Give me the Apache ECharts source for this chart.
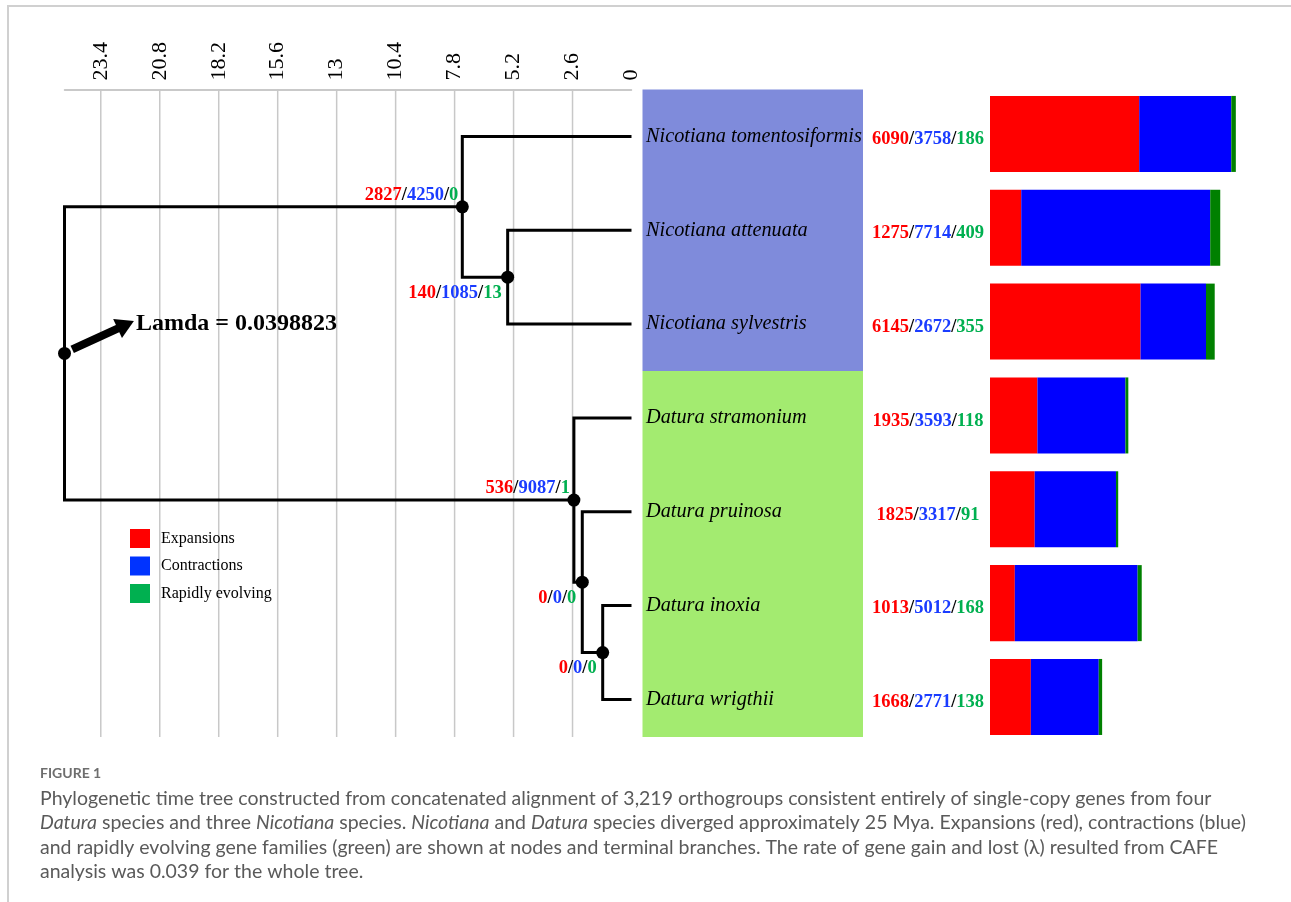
<!DOCTYPE html>
<html><head><meta charset="utf-8">
<script src="https://cdn.jsdelivr.net/npm/echarts@6/dist/echarts.min.js"></script>
<style>
html,body{margin:0;padding:0;background:#fff;overflow:hidden;}
#frame{position:absolute;left:7px;top:5px;width:1290px;height:900px;border-left:2px solid #d0d0d0;border-top:2px solid #d0d0d0;}
#chart{position:absolute;left:0;top:0;width:1291px;height:902px;}
</style></head><body><div id="frame"></div><div id="chart"></div>
<script>
// ---- data ----
const species = ['Nicotiana tomentosiformis','Nicotiana attenuata','Nicotiana sylvestris','Datura stramonium','Datura pruinosa','Datura inoxia','Datura wrigthii'];
const genus = ['Nicotiana','Nicotiana','Nicotiana','Datura','Datura','Datura','Datura'];
const expansions = [6090,1275,6145,1935,1825,1013,1668];
const contractions = [3758,7714,2672,3593,3317,5012,2771];
const rapid = [186,409,355,118,91,168,138];
const nodeIds = ['root','N1','N2','D1','D2','D3'];
const nodeAges = [25,7.46,5.46,2.54,2.17,1.27];
const nodeKids = [['N1','D1'],['T0','N2'],['T1','T2'],['T3','D2'],['T4','D3'],['T5','T6']];
const nodeExp = [null,2827,140,536,0,0];
const nodeCon = [null,4250,1085,9087,0,0];
const nodeRapid = [null,0,13,1,0,0];
const nodeLabelSide = [null,'above','below','above','below','below'];
const timeTicks = [0,2.6,5.2,7.8,10.4,13,15.6,18.2,20.8,23.4];
const lambda = 0.0398823;
const legendNames = ['Expansions','Contractions','Rapidly evolving'];
const captionTitle = 'FIGURE 1';
const captionLines = [
 'Phylogenetic time tree constructed from concatenated alignment of 3,219 orthogroups consistent entirely of single-copy genes from four',
 '{i|Datura} species and three {i|Nicotiana} species. {i|Nicotiana} and {i|Datura} species diverged approximately 25 Mya. Expansions (red), contractions (blue)',
 'and rapidly evolving gene families (green) are shown at nodes and terminal branches. The rate of gene gain and lost (λ) resulted from CAFE',
 'analysis was 0.039 for the whole tree.'
];

// ---- styles ----
const RED='#ff0000', BLUE='#1a3cff', GREEN='#00b050';
const barColors=['#ff0000','#0000ff','#008000'];
const legendColors=['#ff0000','#0033ff','#00b050'];
const genusColors={Nicotiana:'#7f8bdb',Datura:'#a3eb70'};
const SERIF='"Liberation Serif","Times New Roman",serif';
const SANS='Lato,"Open Sans","Noto Sans",sans-serif';
const Y_MIN=-0.5, Y_MAX=6.4;

// ---- tree layout ----
const pos={};
species.forEach((s,i)=>{pos['T'+i]=[0,i];});
function place(id){
  if(pos[id]) return pos[id];
  const k=nodeIds.indexOf(id);
  const kids=nodeKids[k].map(place);
  pos[id]=[nodeAges[k],(kids[0][1]+kids[1][1])/2];
  return pos[id];
}
place('root');
const brackets=nodeIds.map((id,k)=>{
  const p=pos[id]; const a=pos[nodeKids[k][0]], b=pos[nodeKids[k][1]];
  return [a[0],a[1],p[0],a[1],p[0],b[1],b[0],b[1]];
});
const nodeData=nodeIds.map(id=>pos[id]);
const nodeLabelData=nodeIds.map((id,k)=>[pos[id][0],pos[id][1],k]).filter(d=>nodeExp[d[2]]!==null);

function triple(e,c,r){return '{r|'+e+'}{k|/}{b|'+c+'}{k|/}{g|'+r+'}';}
const numRich={
  r:{fill:RED,font:'bold 18.5px '+SERIF},
  b:{fill:BLUE,font:'bold 18.5px '+SERIF},
  g:{fill:GREEN,font:'bold 18.5px '+SERIF},
  k:{fill:'#000',font:'bold 18.5px '+SERIF}
};

const stacks=[expansions,contractions,rapid];
const barSeries=stacks.map((arr,c)=>{
  const data=arr.map((v,i)=>{
    let start=0; for(let j=0;j<c;j++) start+=stacks[j][i];
    return [start,start+v,i];
  });
  return {
    type:'custom', name:legendNames[c], xAxisIndex:1, yAxisIndex:1, z:3,
    itemStyle:{color:barColors[c]},
    data:data, clip:false,
    encode:{x:[0,1],y:2},
    renderItem:function(params,api){
      const p1=api.coord([api.value(0),api.value(2)]);
      const p2=api.coord([api.value(1),api.value(2)]);
      const h=api.size([0,0.81])[1];
      return {type:'rect',shape:{x:p1[0],y:p1[1]-h/2-2.5,width:p2[0]-p1[0],height:h},style:{fill:barColors[c]}};
    }
  };
});

const genusGroups=[];
genus.forEach((g,i)=>{
  const last=genusGroups[genusGroups.length-1];
  if(last && last.g===g) last.end=i; else genusGroups.push({g:g,start:i,end:i});
});

const chart=echarts.init(document.getElementById('chart'),null,{renderer:'canvas'});
chart.setOption({
  animation:false,
  backgroundColor:'transparent',
  title:[
    {text:'Lamda = '+lambda,left:136,top:310,padding:0,textStyle:{fontFamily:SERIF,fontWeight:'bold',fontSize:24,lineHeight:27,color:'#000'}},
    {text:captionTitle,left:40,top:765,padding:0,textStyle:{fontFamily:SANS,fontWeight:'bold',fontSize:14,lineHeight:16,color:'#6e6e6e'}},
    {text:captionLines.join('\n'),left:40,top:786,padding:0,
     textStyle:{fontFamily:SANS,fontWeight:'normal',fontSize:19.5,lineHeight:24.5,color:'#5a5a5a',
       rich:{i:{fontStyle:'italic',fontFamily:SANS,fontSize:19.5,lineHeight:24.5,color:'#5a5a5a'}}}}
  ],
  legend:{
    left:125,top:524,orient:'vertical',icon:'rect',itemWidth:20,itemHeight:19,itemGap:8.5,selectedMode:false,
    textStyle:{fontFamily:SERIF,fontSize:16,color:'#000',padding:[0,0,0,6]},
    data:legendNames.map((n,i)=>({name:n,itemStyle:{color:legendColors[i]}}))
  },
  grid:[
    {left:64.5,top:89.5,width:567,height:647.5},
    {left:990,top:89.5,width:294,height:647.5},
    {left:642.5,top:89.5,width:220.5,height:647.5}
  ],
  xAxis:[
    {type:'value',gridIndex:0,min:0,max:25,interval:2.6,inverse:true,position:'top',
     axisLine:{show:true,onZero:false,lineStyle:{color:'#b8b8b8',width:1.5}},axisTick:{show:false},splitLine:{show:false},
     axisLabel:{rotate:-90,margin:9,fontFamily:SERIF,fontSize:22,color:'#000',
       formatter:function(v){const r=+(+v).toFixed(1); return timeTicks.some(t=>Math.abs(t-r)<1e-6)?String(r):'';}}},
    {type:'value',gridIndex:1,min:0,max:12000,show:false},
    {type:'value',gridIndex:2,min:0,max:1,show:false}
  ],
  yAxis:[
    {type:'value',gridIndex:0,min:Y_MIN,max:Y_MAX,inverse:true,show:false},
    {type:'value',gridIndex:1,min:Y_MIN,max:Y_MAX,inverse:true,show:false},
    {type:'value',gridIndex:2,min:Y_MIN,max:Y_MAX,inverse:true,show:false}
  ],
  series:[
    {type:'custom',xAxisIndex:0,yAxisIndex:0,z:1,silent:true,clip:false,
     data:timeTicks.filter(v=>v>0).map(v=>[v]),
     renderItem:function(params,api){
       const a=api.coord([api.value(0),Y_MIN]), b=api.coord([api.value(0),Y_MAX]);
       return {type:'line',shape:{x1:a[0],y1:a[1],x2:b[0],y2:b[1]},style:{stroke:'#c8c8c8',lineWidth:1.5}};
     }},
    {type:'custom',xAxisIndex:2,yAxisIndex:2,z:1,silent:true,clip:false,
     data:genusGroups.map(g=>[g.start-0.5,Math.min(g.end+0.5,Y_MAX),g.g]),
     renderItem:function(params,api){
       const g=genusGroups[params.dataIndex];
       const a=api.coord([0,api.value(0)]), b=api.coord([1,api.value(1)]);
       return {type:'rect',shape:{x:a[0],y:a[1],width:b[0]-a[0],height:b[1]-a[1]},style:{fill:genusColors[g.g]}};
     }},
    {type:'custom',xAxisIndex:2,yAxisIndex:2,z:4,silent:true,clip:false,
     data:species.map((s,i)=>[0,i]),
     renderItem:function(params,api){
       const p=api.coord([0,api.value(1)]);
       return {type:'text',x:p[0]+3.5,y:p[1],style:{text:species[params.dataIndex],fill:'#000',font:'italic 20.3px '+SERIF,textAlign:'left',textVerticalAlign:'middle'}};
     }},
    {type:'custom',xAxisIndex:0,yAxisIndex:0,z:2,silent:true,clip:false,
     data:brackets,encode:{x:[0,2,4,6],y:[1,3,5,7]},
     renderItem:function(params,api){
       const pts=[]; for(let j=0;j<4;j++) pts.push(api.coord([api.value(2*j),api.value(2*j+1)]));
       return {type:'polyline',shape:{points:pts},style:{stroke:'#000',lineWidth:3,fill:null,lineJoin:'miter'}};
     }},
    {type:'scatter',xAxisIndex:0,yAxisIndex:0,z:3,silent:true,symbol:'circle',symbolSize:13,
     itemStyle:{color:'#000',opacity:1},data:nodeData,
     markLine:{silent:true,symbol:['none','triangle'],symbolSize:[21,18],label:{show:false},
       lineStyle:{color:'#000',width:8,type:'solid',opacity:1},
       data:[[{coord:[24.66,2.27]},{coord:[22.30,2.007]}]]}},
    {type:'custom',xAxisIndex:0,yAxisIndex:0,z:5,silent:true,clip:false,
     data:nodeLabelData,
     renderItem:function(params,api){
       const k=api.value(2);
       const p=api.coord([api.value(0),api.value(1)]);
       const above=nodeLabelSide[k]==='above';
       return {type:'text',x:p[0]+(above?-4:-6),y:p[1]+(above?-12:16),
         style:{text:triple(nodeExp[k],nodeCon[k],nodeRapid[k]),rich:numRich,font:'bold 18.5px '+SERIF,textAlign:'right',textVerticalAlign:'middle'}};
     }},
    {type:'custom',xAxisIndex:1,yAxisIndex:1,z:5,silent:true,clip:false,
     data:species.map((s,i)=>[0,i]),
     renderItem:function(params,api){
       const i=params.dataIndex;
       const p=api.coord([0,api.value(1)]);
       return {type:'text',x:p[0]-62,y:p[1]+3,
         style:{text:triple(expansions[i],contractions[i],rapid[i]),rich:numRich,font:'bold 18.5px '+SERIF,textAlign:'center',textVerticalAlign:'middle'}};
     }}
  ].concat(barSeries)
});
</script></body></html>
